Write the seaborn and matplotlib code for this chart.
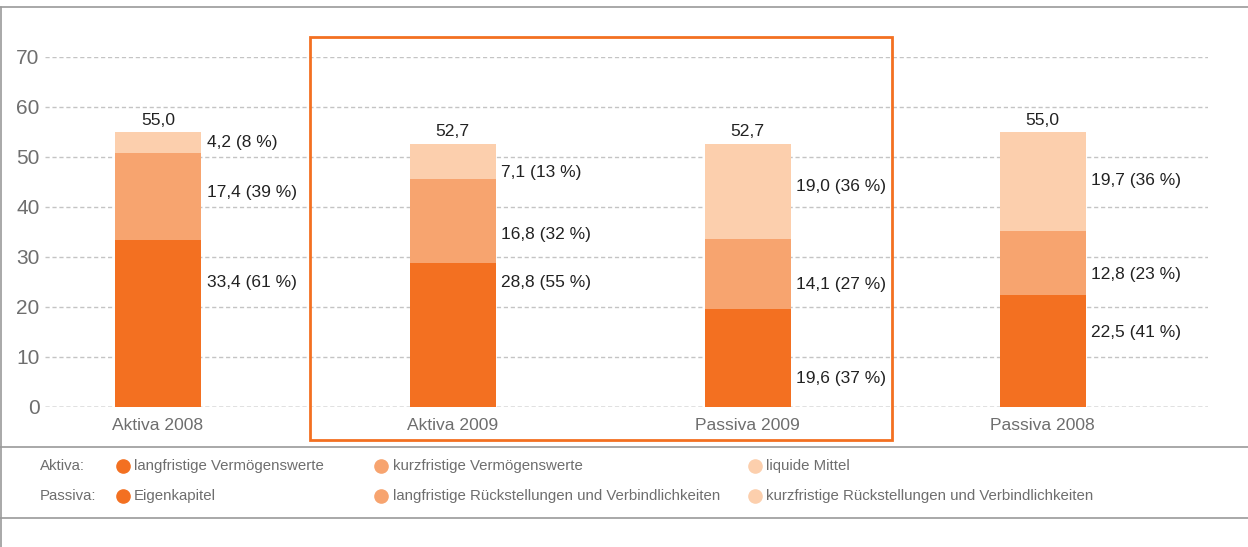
"""
Stacked balance sheet structure chart: Aktiva / Passiva 2008 and 2009.
"""

import numpy as np
import pandas as pd
import matplotlib.pyplot as plt
import seaborn as sns
from matplotlib.lines import Line2D
from matplotlib.patches import Rectangle

# --- data -------------------------------------------------------------------
categories = ['Aktiva 2008', 'Aktiva 2009', 'Passiva 2009', 'Passiva 2008']
bottom_vals = [33.4, 28.8, 19.6, 22.5]   # langfristige Vermögenswerte / Eigenkapital
middle_vals = [17.4, 16.8, 14.1, 12.8]   # kurzfristige Vermögenswerte / langfr. Rückstellungen
top_vals = [4.2, 7.1, 19.0, 19.7]        # liquide Mittel / kurzfr. Rückstellungen
totals = [55.0, 52.7, 52.7, 55.0]
bottom_pct = [61, 55, 37, 41]
middle_pct = [39, 32, 27, 23]
top_pct = [8, 13, 36, 36]

aktiva_labels = ['langfristige Vermögenswerte', 'kurzfristige Vermögenswerte', 'liquide Mittel']
passiva_labels = ['Eigenkapitel', 'langfristige Rückstellungen und Verbindlichkeiten',
                  'kurzfristige Rückstellungen und Verbindlichkeiten']

# label heights (layout only, in axis units) for the segment annotations
label_y_bottom = [24.8, 24.8, 5.8, 14.8]
label_y_middle = [43.0, 34.4, 24.4, 26.4]
label_y_top = [52.8, 46.8, 44.0, 45.4]

# --- styling ----------------------------------------------------------------
DARK = '#f37021'
MEDIUM = '#f7a46f'
LIGHT = '#fccfad'
GRID = '#c4c4c4'
TEXT = '#222222'
GRAY = '#6e6e6e'
FRAME = '#9a9a9a'
BAR_WIDTH = 0.292


def fmt(v):
    return f'{v:.1f}'.replace('.', ',')


sns.set_style('white')
plt.rcParams['font.family'] = ['Liberation Sans', 'DejaVu Sans']

df = pd.DataFrame({
    'category': categories,
    'cum_top': np.array(bottom_vals) + np.array(middle_vals) + np.array(top_vals),
    'cum_mid': np.array(bottom_vals) + np.array(middle_vals),
    'bottom': bottom_vals,
})

fig = plt.figure(figsize=(12.48, 5.47), dpi=100)
ax = fig.add_axes([45 / 1248, 140 / 547, 1163 / 1248, 350 / 547])

# stacked bars drawn back to front as cumulative sums
for col, color in [('cum_top', LIGHT), ('cum_mid', MEDIUM), ('bottom', DARK)]:
    sns.barplot(data=df, x='category', y=col, order=categories, color=color,
                width=BAR_WIDTH, saturation=1, linewidth=0, ax=ax, zorder=3)

ax.set_xlim(-0.383, 3.561)
ax.set_ylim(0, 70)
ax.set_yticks(range(0, 71, 10))
ax.set_xlabel('')
ax.set_ylabel('')
sns.despine(ax=ax, left=True, bottom=True)
ax.yaxis.grid(True, color=GRID, linestyle=(0, (3, 2)), linewidth=1.0, zorder=0)
ax.set_axisbelow(True)
ax.axhline(0, color='#9a9a9a', linestyle=(0, (3, 2)), linewidth=1.0, zorder=1)
ax.tick_params(axis='y', length=0, pad=4, labelsize=15, labelcolor=GRAY)
ax.tick_params(axis='x', length=0, pad=8, labelsize=12.6, labelcolor=GRAY)

# annotations
for i, cat in enumerate(categories):
    ax.annotate(fmt(totals[i]), (i, totals[i]), xytext=(0, 3),
                textcoords='offset points', ha='center', va='bottom',
                fontsize=12.6, color=TEXT)
    x_right = i + BAR_WIDTH / 2
    for val, pct, ly in [(bottom_vals[i], bottom_pct[i], label_y_bottom[i]),
                         (middle_vals[i], middle_pct[i], label_y_middle[i]),
                         (top_vals[i], top_pct[i], label_y_top[i])]:
        ax.annotate(f'{fmt(val)} ({pct} %)', (x_right, ly), xytext=(4, 0),
                    textcoords='offset points', ha='left', va='center',
                    fontsize=12.5, color=TEXT)

# highlight box around 2009
fig.add_artist(Rectangle((310 / 1248, 107 / 547), 582 / 1248, 403 / 547,
                         transform=fig.transFigure, fill=False,
                         edgecolor=DARK, linewidth=2.0))

# frame lines
for y in [540 / 547, 100 / 547, 29 / 547]:
    fig.add_artist(Line2D([0, 1], [y, y], transform=fig.transFigure,
                          color=FRAME, linewidth=1.2))
fig.add_artist(Line2D([1 / 1248, 1 / 1248], [0, 540 / 547], transform=fig.transFigure,
                      color=FRAME, linewidth=1.2))

# legend rows
marker_x = [123 / 1248, 381 / 1248, 755 / 1248]
text_x = [134 / 1248, 393 / 1248, 766 / 1248]
for row_label, labels, y in [('Aktiva:', aktiva_labels, 81 / 547),
                             ('Passiva:', passiva_labels, 51 / 547)]:
    fig.text(40 / 1248, y, row_label, ha='left', va='center', fontsize=10.8, color=GRAY)
    for mx, tx, lab, color in zip(marker_x, text_x, labels, [DARK, MEDIUM, LIGHT]):
        fig.add_artist(Line2D([mx], [y], transform=fig.transFigure, marker='o',
                              markersize=9.5, color=color, linestyle='none'))
        fig.text(tx, y, lab, ha='left', va='center', fontsize=10.8, color=GRAY)

fig.savefig('out.png', dpi=100)
